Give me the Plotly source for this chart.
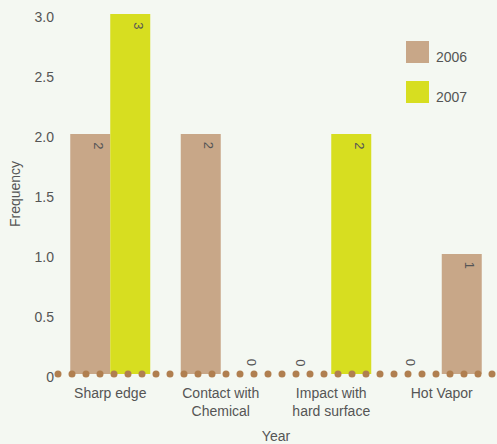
import numpy as np
import plotly.graph_objects as go

# ---- data ----
categories = ["Sharp edge", "Contact with<br>Chemical", "Impact with<br>hard surface", "Hot Vapor"]
series_names = ["2006", "2007"]
values_2006 = [2, 2, 0, 0]
values_2007 = [3, 0, 2, 1]
y_tickvals = [0, 0.5, 1.0, 1.5, 2.0, 2.5, 3.0]
y_ticktext = ["0", "0.5", "1.0", "1.5", "2.0", "2.5", "3.0"]

# ---- style ----
W, H = 497, 444
ML, MR, MT, MB = 55, 0, 14, 70
BG = "#f4f8f2"
TAN = "#c8a788"
YEL = "#d7de20"
DOT = "#b07f50"
TXT = "#555555"
FONT = "Liberation Sans, Arial, sans-serif"
FS = 14
colors_2006 = [TAN, TAN, TAN, TAN]
colors_2007 = [YEL, YEL, YEL, TAN]

PW = W - ML - MR
PH = H - MT - MB


def px_x(px):
    return (px - ML) / PW


def px_y(py):
    return (H - MB - py) / PH


fig = go.Figure()
fig.add_trace(go.Bar(x=categories, y=values_2006, name=series_names[0],
                     marker=dict(color=colors_2006, line=dict(width=0))))
fig.add_trace(go.Bar(x=categories, y=values_2007, name=series_names[1],
                     marker=dict(color=colors_2007, line=dict(width=0))))

# dotted baseline (decoration)
dot_x = np.arange(3, PW, 14)
fig.add_trace(go.Scatter(x=dot_x, y=np.zeros(len(dot_x)), xaxis="x2", mode="markers",
                         marker=dict(size=7, color=DOT), cliponaxis=False,
                         hoverinfo="skip", showlegend=False))

# value labels
annotations = []
for vals, slot in ((values_2006, -20), (values_2007, 20)):
    for cat, v in zip(categories, vals):
        if v > 0:
            annotations.append(dict(x=cat, y=v, xref="x", yref="y", text=str(v), textangle=90,
                                    showarrow=False, xshift=slot + 8, yshift=-6, yanchor="top",
                                    xanchor="center", font=dict(size=13, color=TXT, family=FONT)))
        else:
            annotations.append(dict(x=cat, y=0, xref="x", yref="y", text=str(v), textangle=90,
                                    showarrow=False, xshift=slot + (11 if slot > 0 else -11),
                                    yshift=6, yanchor="bottom",
                                    xanchor="center", font=dict(size=13, color=TXT, family=FONT)))

# manual legend
shapes = []
for k, (name, col) in enumerate(zip(series_names, [TAN, YEL])):
    top = 41 + 40 * k
    shapes.append(dict(type="rect", xref="paper", yref="paper",
                       x0=px_x(406), x1=px_x(429), y0=px_y(top + 22), y1=px_y(top),
                       fillcolor=col, line=dict(width=0)))
    annotations.append(dict(x=px_x(434), y=px_y(top + 16), xref="paper", yref="paper",
                            text=name, showarrow=False, xanchor="left", yanchor="middle",
                            font=dict(size=FS, color=TXT, family=FONT)))

fig.update_layout(
    width=W, height=H,
    margin=dict(l=ML, r=MR, t=MT, b=MB, pad=0),
    paper_bgcolor=BG, plot_bgcolor=BG,
    barmode="group", bargap=0.276, bargroupgap=0,
    showlegend=False,
    font=dict(family=FONT, size=FS, color=TXT),
    xaxis=dict(showgrid=False, zeroline=False, showline=False, ticks="",
               tickfont=dict(size=FS, color=TXT), ticklabelstandoff=9,
               title=dict(text="Year", font=dict(size=FS, color=TXT), standoff=13)),
    xaxis2=dict(overlaying="x", range=[0, PW], visible=False, anchor="y"),
    yaxis=dict(range=[0, 3], tickvals=y_tickvals, ticktext=y_ticktext,
               showgrid=False, zeroline=False, showline=False, ticks="",
               tickfont=dict(size=FS, color=TXT), ticklabelshift=3,
               title=dict(text="Frequency", font=dict(size=FS, color=TXT), standoff=10)),
    shapes=shapes,
    annotations=annotations,
)

fig.write_html("out.html")
